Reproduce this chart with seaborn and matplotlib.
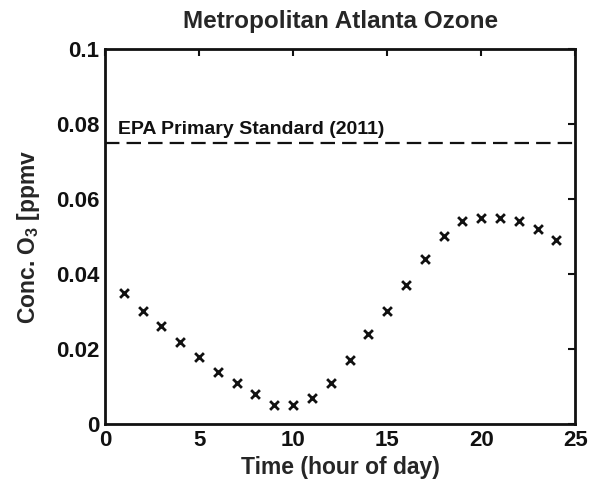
import matplotlib
matplotlib.use("Agg")
import matplotlib.pyplot as plt
import seaborn as sns
import pandas as pd

hours = list(range(1, 25))
ozone = [0.035, 0.030, 0.026, 0.022, 0.018, 0.014, 0.011, 0.008, 0.005, 0.005,
         0.007, 0.011, 0.017, 0.024, 0.030, 0.037, 0.044, 0.050, 0.054, 0.055,
         0.055, 0.054, 0.052, 0.049]
standard = 0.075
standard_label = "EPA Primary Standard (2011)"
xticks = [0, 5, 10, 15, 20, 25]
yticks = [0, 0.02, 0.04, 0.06, 0.08, 0.1]
yticklabels = ["0", "0.02", "0.04", "0.06", "0.08", "0.1"]

sns.set_style("white")
plt.rcParams['font.family'] = ['Liberation Sans', 'DejaVu Sans']
plt.rcParams['font.weight'] = 'bold'
plt.rcParams['mathtext.fontset'] = 'custom'
plt.rcParams['mathtext.rm'] = 'Liberation Sans:bold'
plt.rcParams['mathtext.it'] = 'Liberation Sans:bold'
plt.rcParams['mathtext.bf'] = 'Liberation Sans:bold'
plt.rcParams['mathtext.default'] = 'rm'

df = pd.DataFrame({"hour": hours, "ozone": ozone})

fig = plt.figure(figsize=(5.9, 4.83), dpi=100)
ax = fig.add_axes([0.178, 0.122, 0.797, 0.777])
sns.scatterplot(data=df, x="hour", y="ozone", marker="x", color="#111111",
                s=40, linewidth=2, ax=ax, legend=False)
ax.axhline(standard, color="#111111", linestyle=(0, (6.5, 3.2)), linewidth=1.6)
ax.text(0.7, standard + 0.0012, standard_label, fontsize=14, fontweight="bold",
        va="bottom", ha="left", color="#111111")

ax.set_xlim(0, 25)
ax.set_ylim(0, 0.1)
ax.set_xticks(xticks)
ax.set_yticks(yticks)
ax.set_yticklabels(yticklabels)
ax.tick_params(direction="in", length=5, width=1.5, labelsize=16, top=True, right=True,
               colors="#111111", pad=4)
for lbl in ax.get_xticklabels() + ax.get_yticklabels():
    lbl.set_fontweight("bold")
for sp in ax.spines.values():
    sp.set_linewidth(2)
    sp.set_color("#111111")

ax.set_xlabel("Time (hour of day)", fontsize=16.5, fontweight="bold", labelpad=4)
ax.set_ylabel("Conc. O$_3$ [ppmv", fontsize=16.5, fontweight="bold", labelpad=10)
ax.set_title("Metropolitan Atlanta Ozone", fontsize=17.5, fontweight="bold", pad=15)

fig.savefig("out.png", dpi=100)
